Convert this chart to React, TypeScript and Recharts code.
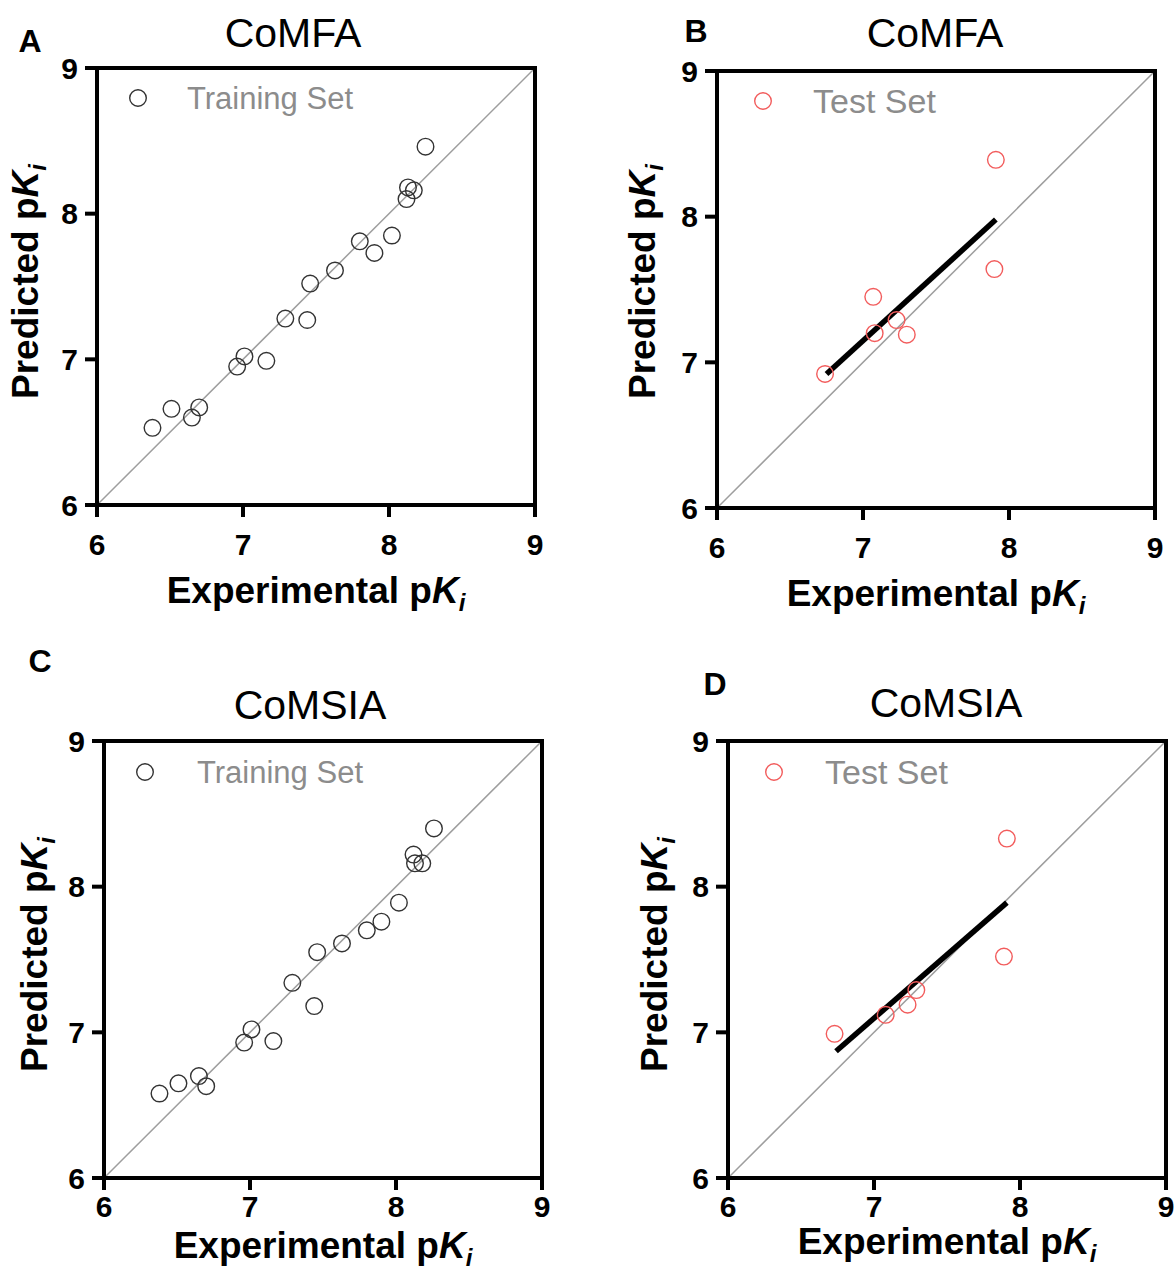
import React from "react";
import { ScatterChart, Scatter, XAxis, YAxis, ReferenceLine, Label } from "recharts";

const axisTicks = [6, 7, 8, 9];

// CoMFA, training set
const comfaTrainExp = [6.38, 6.51, 6.65, 6.7, 6.96, 7.01, 7.16, 7.29, 7.44, 7.46, 7.63, 7.8, 7.9, 8.02, 8.12, 8.13, 8.17, 8.25];
const comfaTrainPred = [6.53, 6.66, 6.6, 6.67, 6.95, 7.02, 6.99, 7.28, 7.27, 7.52, 7.61, 7.81, 7.73, 7.85, 8.1, 8.18, 8.16, 8.46];

// CoMFA, test set + fitted line
const comfaTestExp = [6.74, 7.07, 7.08, 7.23, 7.3, 7.9, 7.91];
const comfaTestPred = [6.92, 7.45, 7.2, 7.29, 7.19, 7.64, 8.39];
const comfaFitExp = [6.75, 7.91];
const comfaFitPred = [6.92, 7.98];

// CoMSIA, training set
const comsiaTrainExp = [6.38, 6.51, 6.65, 6.7, 6.96, 7.01, 7.16, 7.29, 7.44, 7.46, 7.63, 7.8, 7.9, 8.02, 8.12, 8.13, 8.18, 8.26];
const comsiaTrainPred = [6.58, 6.65, 6.7, 6.63, 6.93, 7.02, 6.94, 7.34, 7.18, 7.55, 7.61, 7.7, 7.76, 7.89, 8.22, 8.16, 8.16, 8.4];

// CoMSIA, test set + fitted line
const comsiaTestExp = [6.73, 7.08, 7.23, 7.29, 7.89, 7.91];
const comsiaTestPred = [6.99, 7.12, 7.19, 7.29, 7.52, 8.33];
const comsiaFitExp = [6.74, 7.91];
const comsiaFitPred = [6.87, 7.89];

const FONT = "'Liberation Sans', Arial, Helvetica, sans-serif";
const PW = 438; // plot width
const PH = 437; // plot height
const PAD_L = 110;
const PAD_T = 70;
const PAD_R = 20;
const PAD_B = 135;

const toPoints = (xs: number[], ys: number[]) => xs.map((x, i) => ({ x, y: ys[i] }));

type Panel = {
  letter: string;
  letterX: number;
  letterY: number;
  title: string;
  titleX: number;
  titleY: number;
  plotX: number;
  plotY: number;
  legend: string;
  legendCx: number;
  legendCy: number;
  legendTextX: number;
  legendSize: number;
  color: string;
  exp: number[];
  pred: number[];
  fitExp?: number[];
  fitPred?: number[];
  xTickMargin: number;
  xLabelDy: number;
  yLabelDx: number;
  yLabelDy: number;
};

const panels: Panel[] = [
  {
    letter: "A", letterX: 30, letterY: 41, title: "CoMFA", titleX: 293, titleY: 33,
    plotX: 97, plotY: 68, legend: "Training Set", legendCx: 138, legendCy: 98, legendTextX: 187, legendSize: 31,
    color: "#333333", exp: comfaTrainExp, pred: comfaTrainPred,
    xTickMargin: 17, xLabelDy: 98, yLabelDx: 59, yLabelDy: -5,
  },
  {
    letter: "B", letterX: 696, letterY: 31, title: "CoMFA", titleX: 935, titleY: 33,
    plotX: 717, plotY: 71, legend: "Test Set", legendCx: 763, legendCy: 101, legendTextX: 813, legendSize: 34,
    color: "#f25c5c", exp: comfaTestExp, pred: comfaTestPred, fitExp: comfaFitExp, fitPred: comfaFitPred,
    xTickMargin: 17, xLabelDy: 98, yLabelDx: 62, yLabelDy: -8,
  },
  {
    letter: "C", letterX: 40, letterY: 661, title: "CoMSIA", titleX: 310, titleY: 705,
    plotX: 104, plotY: 741, legend: "Training Set", legendCx: 145, legendCy: 772, legendTextX: 197, legendSize: 31,
    color: "#333333", exp: comsiaTrainExp, pred: comsiaTrainPred,
    xTickMargin: 6, xLabelDy: 80, yLabelDx: 57, yLabelDy: -5,
  },
  {
    letter: "D", letterX: 715, letterY: 684, title: "CoMSIA", titleX: 946, titleY: 703,
    plotX: 728, plotY: 741, legend: "Test Set", legendCx: 774, legendCy: 772, legendTextX: 825, legendSize: 34,
    color: "#f25c5c", exp: comsiaTestExp, pred: comsiaTestPred, fitExp: comsiaFitExp, fitPred: comsiaFitPred,
    xTickMargin: 6, xLabelDy: 76, yLabelDx: 61, yLabelDy: -5,
  },
];

const tickStyle = { fontSize: 30, fontWeight: "bold", fill: "#000", fontFamily: FONT };

function PanelChart({ p }: { p: Panel }) {
  const data = toPoints(p.exp, p.pred);
  const fit = p.fitExp && p.fitPred ? toPoints(p.fitExp, p.fitPred) : null;
  const plotBottom = PAD_T + PH;
  const xLabel = () => (
    <text x={PAD_L + PW / 2} y={plotBottom + p.xLabelDy} textAnchor="middle" fontSize={37} fontWeight="bold" fontFamily={FONT} fill="#000">
      Experimental p<tspan fontStyle="italic">K</tspan>
      <tspan fontStyle="italic" fontSize={24} dy={8}>i</tspan>
    </text>
  );
  const yLabel = () => {
    const x = PAD_L - p.yLabelDx;
    const y = PAD_T + PH / 2 + p.yLabelDy;
    return (
      <text x={x} y={y} transform={`rotate(-90, ${x}, ${y})`} textAnchor="middle" fontSize={37} fontWeight="bold" fontFamily={FONT} fill="#000">
        Predicted p<tspan fontStyle="italic">K</tspan>
        <tspan fontStyle="italic" fontSize={24} dy={8}>i</tspan>
      </text>
    );
  };
  return (
    <div style={{ position: "absolute", left: p.plotX - PAD_L, top: p.plotY - PAD_T }}>
      <ScatterChart
        width={PAD_L + PW + PAD_R}
        height={PAD_T + PH + PAD_B}
        margin={{ top: PAD_T, right: PAD_R, left: 10, bottom: 5 }}
      >
        <XAxis
          type="number"
          dataKey="x"
          domain={[6, 9]}
          ticks={axisTicks}
          height={PAD_B - 5}
          tickSize={12}
          tickMargin={p.xTickMargin}
          axisLine={{ stroke: "#000", strokeWidth: 4 }}
          tickLine={{ stroke: "#000", strokeWidth: 4 }}
          tick={tickStyle}
          allowDataOverflow
        >
          <Label content={xLabel} />
        </XAxis>
        <YAxis
          type="number"
          dataKey="y"
          domain={[6, 9]}
          ticks={axisTicks}
          width={PAD_L - 10}
          tickSize={12}
          tickMargin={7}
          axisLine={{ stroke: "#000", strokeWidth: 4 }}
          tickLine={{ stroke: "#000", strokeWidth: 4 }}
          tick={tickStyle}
          allowDataOverflow
        >
          <Label content={yLabel} />
        </YAxis>
        <ReferenceLine segment={[{ x: 6, y: 6 }, { x: 9, y: 9 }]} stroke="#9e9e9e" strokeWidth={1.5} />
        <ReferenceLine y={9} stroke="#000" strokeWidth={4} strokeLinecap="square" />
        <ReferenceLine x={9} stroke="#000" strokeWidth={4} strokeLinecap="square" />
        <Scatter
          data={data}
          isAnimationActive={false}
          shape={(s: any) => <circle cx={s.cx} cy={s.cy} r={8.3} fill="none" stroke={p.color} strokeWidth={1.4} />}
        />
        {fit && <ReferenceLine segment={[fit[0], fit[1]]} stroke="#000" strokeWidth={5.5} />}
      </ScatterChart>
    </div>
  );
}

export default function App() {
  return (
    <div style={{ position: "absolute", left: 0, top: 0, width: 1176, height: 1287, overflow: "hidden", background: "#fff", fontFamily: FONT }}>
      {panels.map((p) => (
        <PanelChart key={p.letter} p={p} />
      ))}
      {panels.map((p) => (
        <React.Fragment key={p.letter + "-txt"}>
          <div style={{ position: "absolute", left: p.letterX, top: p.letterY, transform: "translate(-50%, -50%)", fontSize: 32, fontWeight: "bold", lineHeight: 1 }}>
            {p.letter}
          </div>
          <div style={{ position: "absolute", left: p.titleX, top: p.titleY, transform: "translate(-50%, -50%)", fontSize: 41, lineHeight: 1, whiteSpace: "nowrap" }}>
            {p.title}
          </div>
          <svg style={{ position: "absolute", left: p.legendCx - 10, top: p.legendCy - 10 }} width={20} height={20}>
            <circle cx={10} cy={10} r={8.3} fill="none" stroke={p.color} strokeWidth={1.4} />
          </svg>
          <div style={{ position: "absolute", left: p.legendTextX, top: p.legendCy, transform: "translateY(-50%)", fontSize: p.legendSize, color: "#8c8c8c", lineHeight: 1, whiteSpace: "nowrap" }}>
            {p.legend}
          </div>
        </React.Fragment>
      ))}
    </div>
  );
}
